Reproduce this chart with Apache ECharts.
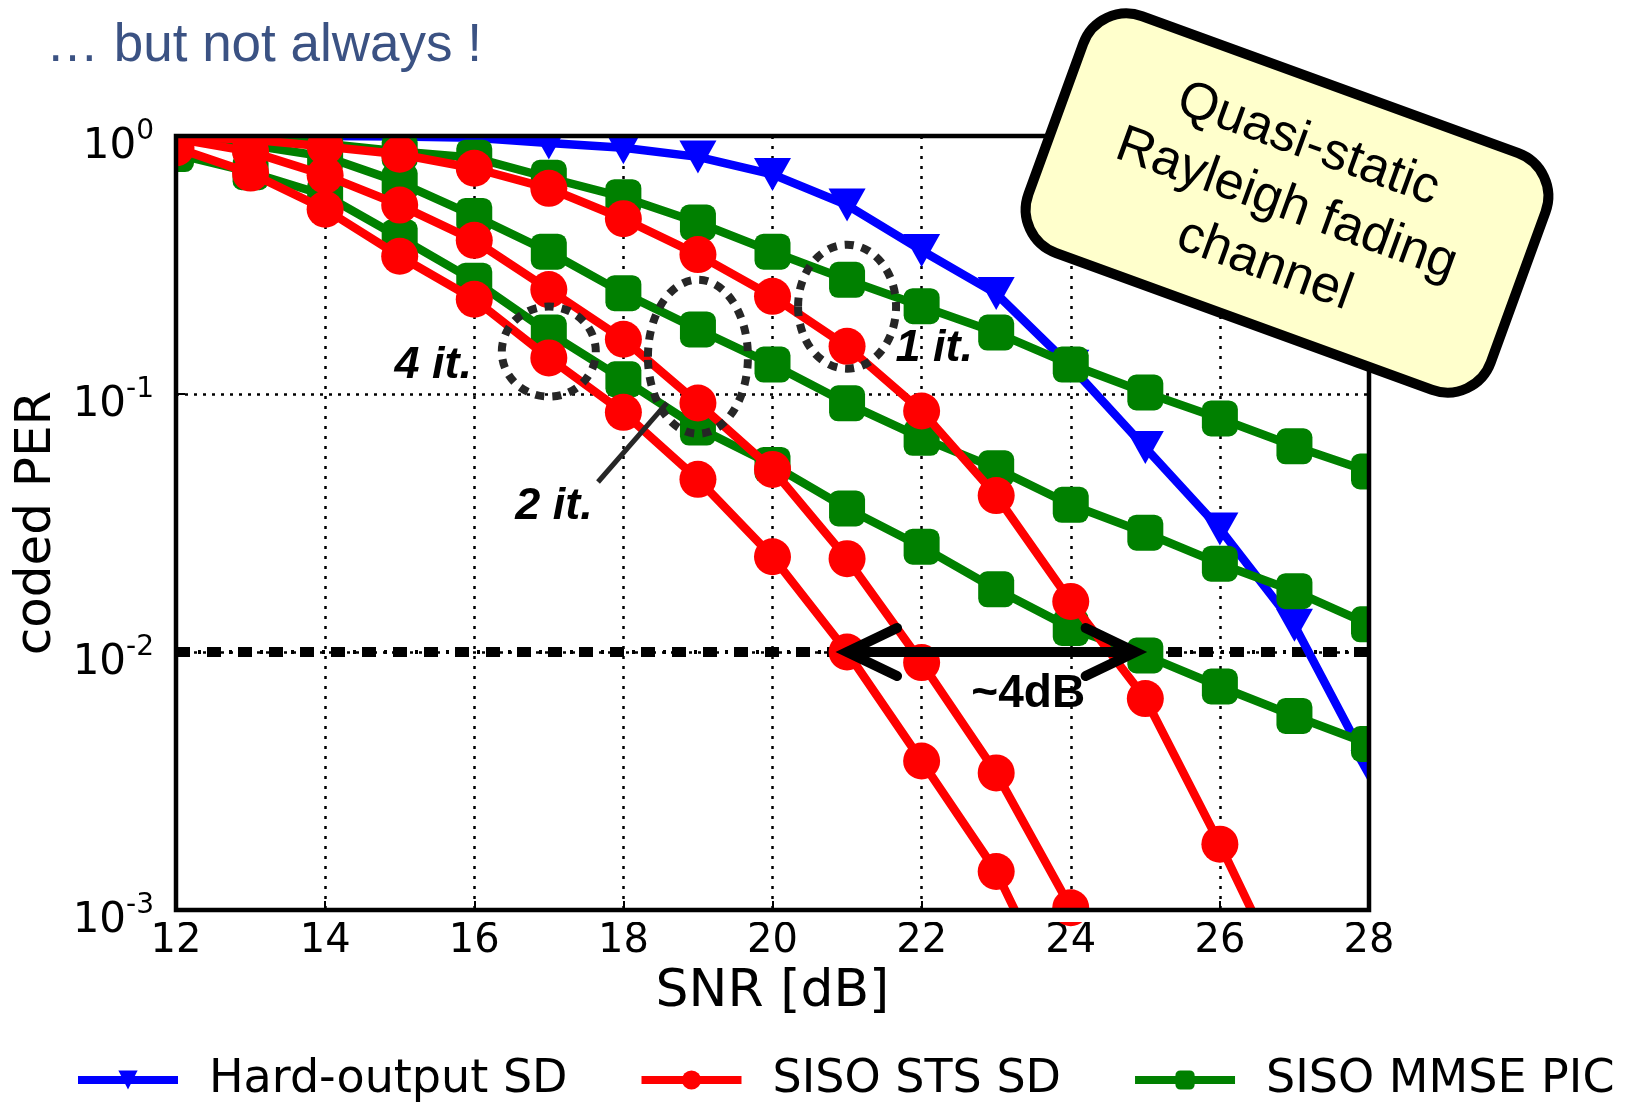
<!DOCTYPE html>
<html><head><meta charset="utf-8">
<script src="https://cdn.jsdelivr.net/npm/echarts@6/dist/echarts.min.js"></script>
<style>html,body{margin:0;padding:0;background:#fff}#c{width:1647px;height:1104px}</style>
</head><body><div id="c"></div>
<script>
// ---- data ----
const snr = [12,13,14,15,16,17,18,19,20,21,22,23,24,25,26,27,28];
const xTicks = [12,14,16,18,20,22,24,26,28];
const yTickExponents = [0,-1,-2,-3];
const legendNames = ['Hard-output SD','SISO STS SD','SISO MMSE PIC'];
const hardSD = [1.0,1.0,1.0,0.995,0.985,0.94,0.90,0.83,0.71,0.54,0.36,0.245,0.128,0.062,0.030,0.0127,0.0036];
const sts1 = [0.99,0.97,0.91,0.85,0.75,0.627,0.478,0.347,0.239,0.153,0.0859,0.0404,0.0157,0.0066,0.0018,0.00045];
const sts2 = [0.977,0.87,0.705,0.54,0.394,0.254,0.163,0.0923,0.051,0.023,0.0091,0.0034,0.00102,0.00028];
const sts4 = [0.90,0.718,0.52,0.342,0.233,0.138,0.0849,0.0467,0.0234,0.0100,0.00378,0.00141,0.000355];
const pic1 = [0.993,0.977,0.933,0.871,0.824,0.689,0.579,0.462,0.356,0.277,0.219,0.173,0.130,0.1014,0.0804,0.0627,0.0501];
const pic2 = [0.966,0.923,0.832,0.661,0.49,0.356,0.246,0.178,0.130,0.092,0.0676,0.0515,0.0372,0.029,0.022,0.0172,0.0128];
const pic4 = [0.851,0.724,0.589,0.404,0.275,0.173,0.114,0.0741,0.0531,0.036,0.0256,0.0175,0.0124,0.0097,0.00735,0.00565,0.0044];
const targetPER = 0.01;
// annotation anchors in data coordinates [snr, PER]
const circle4 = [17, 0.146], circle2 = [19, 0.1395], circle1 = [21, 0.218];
const label4 = [15.45, 0.1284], label2 = [17.07, 0.0365], label1 = [22.17, 0.1494];
const leader2 = [[17.66, 0.0456], [18.585, 0.0923]];
const arrowFrom = [21.0, 0.01], arrowTo = [24.87, 0.01];
const label4dB = [23.43, 0.00688];

const BLUE = '#0000ff', RED = '#ff0000', GREEN = '#008000';
const FONT = 'DejaVu Sans';
const pair = v => v.map((y, i) => [snr[i], y]);

function line(name, vals, color, symbol, size, rotate, z) {
  return {
    type: 'line', name, data: pair(vals), symbol, symbolSize: size, symbolRotate: rotate || 0,
    showSymbol: true, showAllSymbol: true, clip: true, z,
    lineStyle: { color, width: 8.5 }, itemStyle: { color, borderWidth: 0 },
    emphasis: { disabled: true }, animation: false
  };
}

const chart = echarts.init(document.getElementById('c'));
chart.setOption({
  animation: false,
  backgroundColor: '#fff',
  title: {
    text: '\u2026 but not always !', left: 41, top: 15,
    textStyle: { color: '#3b5283', fontSize: 53, fontWeight: 'normal', fontFamily: 'Liberation Sans' }
  },
  grid: { left: 176, right: 278, top: 136, bottom: 194, show: false },
  legend: {
    data: legendNames, left: 69, top: 1052, itemWidth: 100, itemHeight: 24, itemGap: 70,
    lineStyle: { width: 8 },
    textStyle: { fontFamily: FONT, fontSize: 46, color: '#000', padding: [0, 0, 0, 26] },
    selectedMode: false
  },
  xAxis: {
    type: 'value', min: 12, max: 28, interval: 2,
    name: 'SNR [dB]', nameLocation: 'middle', nameGap: 46,
    nameTextStyle: { fontFamily: FONT, fontSize: 52, color: '#000' },
    axisLine: { show: false },
    axisTick: { show: true, inside: true, length: 9, lineStyle: { color: '#000', width: 2 } },
    axisLabel: { fontFamily: FONT, fontSize: 40, color: '#000', margin: 12, showMinLabel: true, showMaxLabel: true,
      formatter: v => xTicks.includes(v) ? String(v) : '' },
    splitLine: { show: true, lineStyle: { color: '#000', width: 2.5, type: [3, 7] } }
  },
  yAxis: {
    type: 'log', logBase: 10, min: 0.001, max: 1,
    name: 'coded PER', nameLocation: 'middle', nameGap: 114, nameRotate: 90,
    nameTextStyle: { fontFamily: FONT, fontSize: 50, color: '#000' },
    axisLine: { show: false },
    axisTick: { show: true, inside: true, length: 9, lineStyle: { color: '#000', width: 2 } },
    axisLabel: {
      margin: 22, color: '#000', padding: [14, 0, 0, 0],
      formatter: v => {
        const e = Math.round(Math.log10(v));
        return yTickExponents.includes(e) ? '{b|10}{s|' + e + '}' : '';
      },
      rich: {
        b: { fontFamily: FONT, fontSize: 42, color: '#000', lineHeight: 50, verticalAlign: 'bottom' },
        s: { fontFamily: FONT, fontSize: 28, color: '#000', lineHeight: 22, verticalAlign: 'top' }
      }
    },
    splitLine: { show: true, lineStyle: { color: '#000', width: 2.5, type: [3, 6] } }
  },
  series: [
    line('Hard-output SD', hardSD, BLUE, 'triangle', [37, 33], 180, 2),
    line('SISO MMSE PIC', pic1, GREEN, 'roundRect', 36, 0, 3),
    line('SISO MMSE PIC', pic2, GREEN, 'roundRect', 36, 0, 3),
    line('SISO MMSE PIC', pic4, GREEN, 'roundRect', 36, 0, 3),
    line('SISO STS SD', sts1, RED, 'circle', 37, 0, 4),
    line('SISO STS SD', sts2, RED, 'circle', 37, 0, 4),
    line('SISO STS SD', sts4, RED, 'circle', 37, 0, 4)
  ]
});

// ---- frame, reference line and annotations positioned from data coordinates ----
const px = p => chart.convertToPixel({ gridIndex: 0 }, p);
const tl = px([12, 1]), br = px([28, 0.001]);
const gl = tl[0], gt = tl[1], gr = br[0], gb = br[1];
const yRef = px([12, targetPER])[1];
const dotted = { fill: 'none', stroke: '#262626', lineWidth: 8, lineDash: [9, 8] };
function ellipse(c, rx, ry) {
  const p = px(c);
  return { type: 'ellipse', z: 50, shape: { cx: p[0], cy: p[1], rx, ry }, style: dotted };
}
function label(p0, text, size) {
  const p = px(p0);
  return { type: 'text', z: 60, x: p[0], y: p[1], style: { text, fontFamily: 'Liberation Sans', fontSize: size,
    fontWeight: 'bold', fontStyle: 'italic', fill: '#000', align: 'center', verticalAlign: 'middle' } };
}
const white = { fill: '#fff', stroke: 'none' };
const a1 = px(arrowFrom), a2 = px(arrowTo);
const l1 = px(leader2[0]), l2 = px(leader2[1]);
const d4 = px(label4dB);
const arrowStyle = { stroke: '#000', lineWidth: 10, fill: 'none', lineCap: 'round', lineJoin: 'miter' };
chart.setOption({
  graphic: [
    // dash-dot reference line at the target PER
    { type: 'line', z: 1, shape: { x1: gl, y1: yRef, x2: gr, y2: yRef }, style: { stroke: '#000', lineWidth: 10, lineDash: [14, 17] } },
    { type: 'line', z: 1, shape: { x1: gl, y1: yRef, x2: gr, y2: yRef }, style: { stroke: '#000', lineWidth: 4, lineDash: [3, 28], lineDashOffset: -22 } },
    // masks so that markers are clipped at the frame
    { type: 'rect', z: 30, shape: { x: gl - 19, y: gt - 24, width: gr - gl + 44, height: 22 }, style: white },
    { type: 'rect', z: 30, shape: { x: gl - 19, y: gt - 24, width: 17, height: gb - gt + 36 }, style: white },
    { type: 'rect', z: 30, shape: { x: gr + 2, y: gt - 24, width: 24, height: gb - gt + 36 }, style: white },
    { type: 'rect', z: 30, shape: { x: gl - 19, y: gb + 2, width: gr - gl + 44, height: 10 }, style: white },
    // axes frame
    { type: 'rect', z: 40, shape: { x: gl, y: gt, width: gr - gl, height: gb - gt }, style: { fill: 'none', stroke: '#000', lineWidth: 4.5 } },
    ellipse(circle4, 47, 45),
    ellipse(circle2, 50, 77),
    ellipse(circle1, 49, 62),
    label(label4, '4 it.', 45),
    label(label2, '2 it.', 45),
    label(label1, '1 it.', 45),
    { type: 'line', z: 55, shape: { x1: l1[0], y1: l1[1], x2: l2[0], y2: l2[1] }, style: { stroke: '#262626', lineWidth: 5 } },
    { type: 'line', z: 55, shape: { x1: a1[0] + 6, y1: a1[1], x2: a2[0] - 6, y2: a2[1] }, style: arrowStyle },
    { type: 'polyline', z: 55, shape: { points: [[a1[0] + 50, a1[1] - 24], [a1[0], a1[1]], [a1[0] + 50, a1[1] + 24]] }, style: arrowStyle },
    { type: 'polyline', z: 55, shape: { points: [[a2[0] - 50, a2[1] - 24], [a2[0], a2[1]], [a2[0] - 50, a2[1] + 24]] }, style: arrowStyle },
    { type: 'text', z: 60, x: d4[0], y: d4[1], style: { text: '~4dB', fontFamily: 'Liberation Sans', fontSize: 46,
      fontWeight: 'bold', fill: '#000', align: 'center', verticalAlign: 'middle' } },
    {
      type: 'group', z: 100, x: 1287, y: 203, rotation: -20 * Math.PI / 180,
      children: [
        { type: 'rect', z: 100, shape: { x: -246, y: -126, width: 492, height: 252, r: 46 },
          style: { fill: '#ffffcc', stroke: '#000', lineWidth: 10 } },
        { type: 'text', z: 101, x: 0, y: 2, style: { text: 'Quasi-static\nRayleigh fading\nchannel',
          fontFamily: 'Liberation Sans', fontSize: 52, lineHeight: 64, fill: '#000', align: 'center', verticalAlign: 'middle' } }
      ]
    }
  ]
});
</script>
</body></html>
